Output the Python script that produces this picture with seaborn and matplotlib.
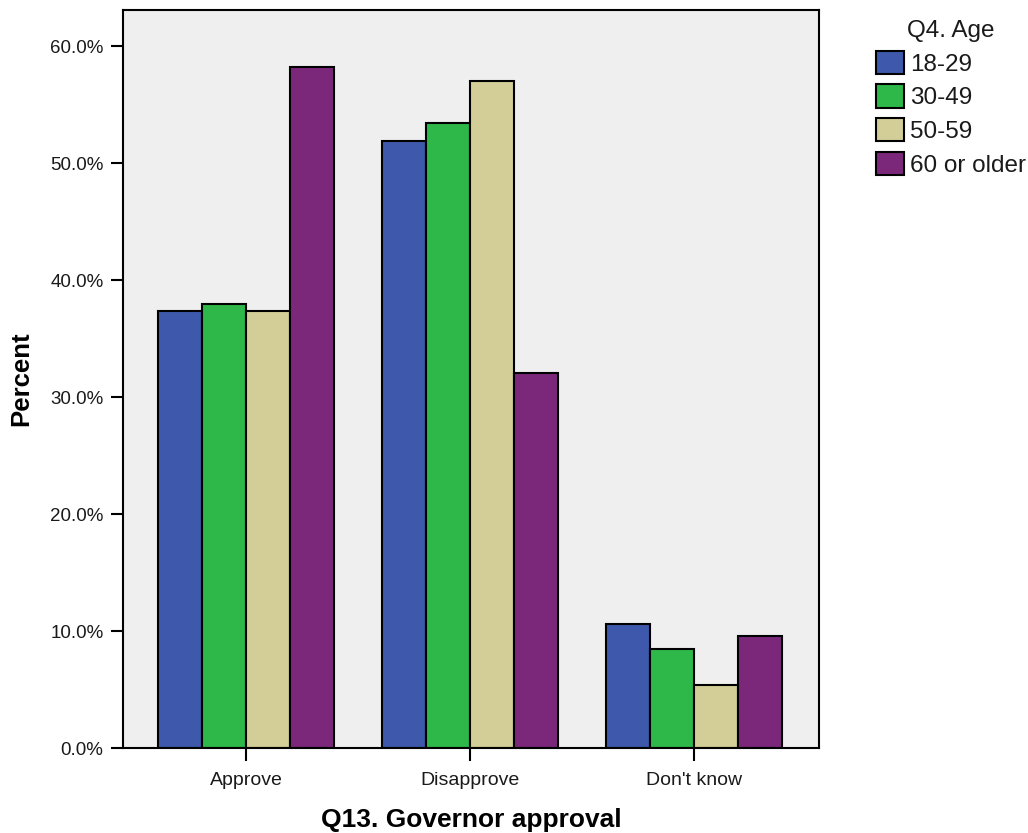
import matplotlib
matplotlib.use("Agg")
import matplotlib.pyplot as plt
import seaborn as sns
import pandas as pd

# governor approval by age group
categories = ["Approve", "Disapprove", "Don't know"]
age_groups = ["18-29", "30-49", "50-59", "60 or older"]
pct_18_29 = [37.4, 51.9, 10.6]
pct_30_49 = [38.0, 53.4, 8.5]
pct_50_59 = [37.4, 57.0, 5.4]
pct_60_up = [58.2, 32.1, 9.6]
colors = ["#3e58ac", "#2fb84a", "#d3ce97", "#7b287b"]

rows = []
for grp, vals in zip(age_groups, [pct_18_29, pct_30_49, pct_50_59, pct_60_up]):
    for cat, v in zip(categories, vals):
        rows.append({"approval": cat, "age": grp, "pct": v})
df = pd.DataFrame(rows)

sns.set_style("white")
plt.rcParams["font.family"] = ["Liberation Sans", "DejaVu Sans"]
plt.rcParams["text.color"] = "#1a1a1a"
plt.rcParams["xtick.color"] = "black"
plt.rcParams["ytick.color"] = "black"
plt.rcParams["xtick.labelcolor"] = "#1a1a1a"
plt.rcParams["ytick.labelcolor"] = "#1a1a1a"

fig = plt.figure(figsize=(10.28, 8.33), dpi=100)
ax = fig.add_axes([0.1197, 0.102, 0.797 - 0.1197, 0.988 - 0.102])
ax.set_facecolor("#efefef")

sns.barplot(data=df, x="approval", y="pct", hue="age", order=categories,
            hue_order=age_groups, palette=colors, width=0.786,
            edgecolor="black", linewidth=1.5, saturation=1, ax=ax)

ax.set_ylim(0, 63.1)
ax.set_xlim(-0.549, 2.558)
ax.set_yticks([0, 10, 20, 30, 40, 50, 60])
ax.set_yticklabels([f"{v:.1f}%" for v in [0, 10, 20, 30, 40, 50, 60]], fontsize=13.5)
ax.tick_params(axis="x", labelsize=14, length=9, width=1.5, direction="out", pad=8)
ax.tick_params(axis="y", length=9, width=1.5, direction="out", pad=5)
ax.tick_params(bottom=True, left=True)
for s in ax.spines.values():
    s.set_linewidth(1.5)
    s.set_color("black")

ax.set_ylabel("Percent", fontsize=18.5, fontweight="bold", labelpad=12, color="black")
ax.set_xlabel("Q13. Governor approval", fontsize=19, fontweight="bold", labelpad=14, color="black")

handles, labels = ax.get_legend_handles_labels()
ax.legend_.remove()
leg = fig.legend(handles, labels, title="Q4. Age", loc="upper left",
                 bbox_to_anchor=(876 / 1028, 1 - 20 / 833), frameon=False,
                 fontsize=17.5, title_fontsize=17.5, handlelength=1.15,
                 handleheight=1.1, labelspacing=0.36, handletextpad=0.25,
                 borderaxespad=0, borderpad=0)
for h in leg.legend_handles:
    h.set_edgecolor("black")
    h.set_linewidth(1.5)

fig.savefig("out.png", dpi=100)
